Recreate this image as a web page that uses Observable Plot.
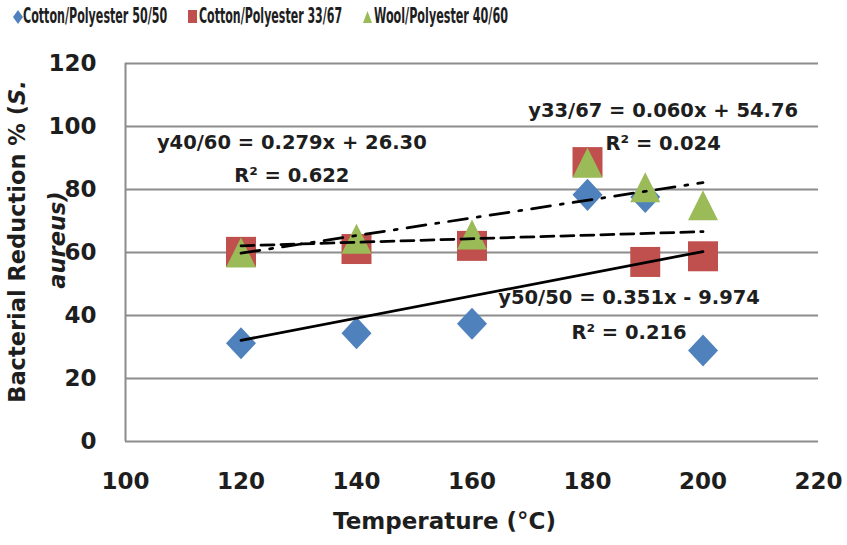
<!DOCTYPE html>
<html><head><meta charset="utf-8">
<script src="https://cdn.jsdelivr.net/npm/d3@7"></script>
<script src="https://cdn.jsdelivr.net/npm/@observablehq/plot@0.6"></script>
<style>
html,body{margin:0;padding:0;background:#fff;}
#legend{position:relative;width:847px;height:36px;font-family:"DejaVu Sans Condensed","DejaVu Sans",sans-serif;font-weight:bold;font-size:20.5px;color:#1e1e1e;}
.sym{position:absolute;}
.lab{position:absolute;top:6px;white-space:nowrap;transform-origin:0 0;line-height:1;}
#chart svg{display:block;}
</style></head><body>
<div id="legend"></div>
<div id="chart"></div>
<script>
// ---- data ----
const temperature = [120, 140, 160, 180, 190, 200];
const cp5050 = [31.2, 34.4, 37.4, 78.3, 77.6, 28.9];
const cp3367 = [60.2, 61.1, 62.1, 88.7, 57.0, 58.8];
const wp4060 = [60.0, 64.4, 65.7, 88.5, 80.7, 75.0];
const seriesNames = ["Cotton/Polyester 50/50", "Cotton/Polyester 33/67", "Wool/Polyester 40/60"];
const seriesColors = ["#4F81BD", "#C0504D", "#9BBB59"];
const xTicks = [100, 120, 140, 160, 180, 200, 220];
const yTicks = [0, 20, 40, 60, 80, 100, 120];
const eqText = ["y40/60 = 0.279x + 26.30", "R\u00B2 = 0.622", "y33/67 = 0.060x + 54.76", "R\u00B2 = 0.024", "y50/50 = 0.351x - 9.974", "R\u00B2 = 0.216"];
const eqX = [128.8, 128.8, 193.1, 193.1, 187.2, 187.2];
const eqY = [94.9, 84.4, 105.1, 94.6, 45.7, 34.6];
const xTitle = "Temperature (\u00B0C)";
const yTitle1 = "Bacterial Reduction % (";
const yTitleItalic = "S.";
const yTitle2 = "aureus)";

// ---- table ----
const seriesValues = [cp5050, cp3367, wp4060];
const rows = [];
seriesValues.forEach((vals, s) => vals.forEach((v, i) => rows.push({series: seriesNames[s], x: temperature[i], y: v})));
const bySeries = name => rows.filter(d => d.series === name);

// ---- symbols ----
const rad = size => Math.sqrt(size / Math.PI);
const diamond = {draw(c, size) { const r = rad(size); c.moveTo(0, -r * 1.07); c.lineTo(r, 0); c.lineTo(0, r * 1.07); c.lineTo(-r, 0); c.closePath(); }};
const square = {draw(c, size) { const r = rad(size); c.rect(-r, -r, 2 * r, 2 * r); }};
const triangle = {draw(c, size) { const r = rad(size); c.moveTo(0, -r); c.lineTo(r, r); c.lineTo(-r, r); c.closePath(); }};
const symbols = [diamond, square, triangle];

const font = "DejaVu Sans, sans-serif";
const grid = "#8c8c8c";
const ink = "#1e1e1e";

const plot = Plot.plot({
  width: 847,
  height: 509,
  marginLeft: 125,
  marginRight: 29,
  marginTop: 27,
  marginBottom: 104,
  style: {fontFamily: font, fontWeight: "bold", color: ink, background: "#fff", overflow: "visible"},
  x: {domain: [100, 220], ticks: xTicks},
  y: {domain: [0, 120], ticks: yTicks},
  marks: [
    Plot.ruleY(yTicks, {stroke: grid, strokeWidth: 2}),
    Plot.ruleX([100], {stroke: grid, strokeWidth: 2}),
    Plot.axisX({ticks: xTicks, tickSize: 0, tickPadding: 31, fontSize: 23, label: null}),
    Plot.axisY({ticks: yTicks, tickSize: 0, tickPadding: 29, fontSize: 23, label: null}),
    ...seriesNames.map((name, s) => Plot.dot(bySeries(name), {x: "x", y: "y", r: 15, symbol: symbols[s], fill: seriesColors[s], stroke: "none"})),
    Plot.linearRegressionY(bySeries(seriesNames[0]), {x: "x", y: "y", ci: 0, stroke: "#000", strokeWidth: 2.75}),
    Plot.linearRegressionY(bySeries(seriesNames[1]), {x: "x", y: "y", ci: 0, stroke: "#000", strokeWidth: 2.75, strokeDasharray: "13,7"}),
    Plot.linearRegressionY(bySeries(seriesNames[2]), {x: "x", y: "y", ci: 0, stroke: "#000", strokeWidth: 2.75, strokeDasharray: "19,10,3,10"}),
    Plot.text(eqText, {x: eqX, y: eqY, text: d => d, fontSize: 19.5, fill: ink, textAnchor: "middle", lineAnchor: "middle"}),
    Plot.text([xTitle], {frameAnchor: "bottom", lineAnchor: "middle", dx: -27.5, dy: 80.5, fontSize: 23, fill: ink})
  ]
});
document.getElementById("chart").appendChild(plot);

// y-axis title (two lines, partly italic)
const svg = d3.select(plot);
const t1 = svg.append("text")
  .attr("transform", "translate(25,205.5) rotate(-90)")
  .attr("text-anchor", "middle")
  .attr("font-family", font).attr("font-weight", "bold").attr("font-size", 22.5).attr("fill", ink);
t1.append("tspan").text(yTitle1);
t1.append("tspan").attr("font-style", "italic").text(yTitleItalic);
svg.append("text")
  .attr("transform", "translate(65,204) rotate(-90)")
  .attr("text-anchor", "middle")
  .attr("font-family", font).attr("font-weight", "bold").attr("font-style", "italic").attr("font-size", 22.5).attr("fill", ink)
  .text(yTitle2);

// ---- legend ----
const legend = document.getElementById("legend");
const symStyle = [
  {left: 13, top: 10, w: 10, h: 14, clip: "polygon(50% 0,100% 50%,50% 100%,0 50%)"},
  {left: 188, top: 10, w: 9, h: 13, clip: "none"},
  {left: 363, top: 11, w: 9, h: 12, clip: "polygon(50% 0,100% 100%,0 100%)"}
];
const labLeft = [23, 199, 374];
const labWidth = [144, 143, 134];
seriesNames.forEach((name, s) => {
  const m = document.createElement("div");
  m.className = "sym";
  const st = symStyle[s];
  Object.assign(m.style, {left: st.left + "px", top: st.top + "px", width: st.w + "px", height: st.h + "px", background: seriesColors[s], clipPath: st.clip});
  legend.appendChild(m);
  const l = document.createElement("div");
  l.className = "lab";
  l.style.left = labLeft[s] + "px";
  l.textContent = name;
  legend.appendChild(l);
  const w = l.offsetWidth;
  l.style.transform = `scaleX(${labWidth[s] / w})`;
});
</script>
</body></html>
